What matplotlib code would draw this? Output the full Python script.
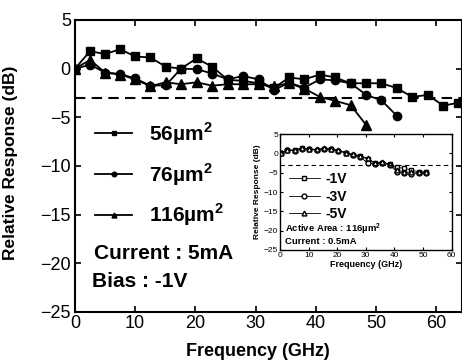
import matplotlib
matplotlib.use("Agg")
import matplotlib.pyplot as plt

plt.rcParams['font.family'] = ['Liberation Sans', 'DejaVu Sans']
plt.rcParams['mathtext.fontset'] = 'custom'
plt.rcParams['mathtext.rm'] = 'Liberation Sans'
plt.rcParams['mathtext.bf'] = 'Liberation Sans:bold'

# main plot data
freq = [0, 2.5, 5, 7.5, 10, 12.5, 15.1, 17.6, 20.2, 22.8, 25.4, 27.9, 30.5,
        33.0, 35.6, 38.1, 40.7, 43.2, 45.8, 48.4, 50.9, 53.5, 56.0, 58.6,
        61.2, 63.7]
resp_56 = [0, 1.8, 1.5, 2.0, 1.25, 1.15, 0.2, 0.0, 1.05, 0.2, -1.15, -1.25,
           -1.5, -2.0, -0.9, -1.1, -0.6, -0.9, -1.5, -1.5, -1.5, -2.0, -2.9,
           -2.7, -3.8, -3.5]
resp_76 = [0, 0.4, -0.4, -0.55, -1.0, -1.75, -1.7, 0.0, -0.05, -0.5, -1.1,
           -0.75, -1.1, -2.2, -1.45, -1.95, -1.1, -1.2, -1.5, -2.7, -3.25,
           -4.85]
resp_116 = [0, 0.9, -0.4, -0.6, -1.1, -1.8, -1.4, -1.6, -1.4, -1.75, -1.6,
            -1.6, -1.6, -1.8, -1.5, -2.05, -2.9, -3.3, -3.75, -5.8]
labels_main = ['56µm$^\\mathbf{2}$', '76µm$^\\mathbf{2}$', '116µm$^\\mathbf{2}$']

# inset data (116 um^2, 0.5 mA, different bias)
freq_in = [0.5, 2.6, 5.1, 7.7, 10.2, 12.8, 15.3, 17.9, 20.4, 23.0, 25.5, 28.1,
           30.6, 33.2, 35.7, 38.3, 40.8, 43.4, 45.9, 48.5, 51.0]
resp_1v = [0, 0.9, 0.8, 1.3, 1.1, 0.9, 1.2, 1.1, 0.7, 0.2, -0.4, -0.8, -1.5,
           -2.6, -2.4, -2.8, -3.6, -3.9, -4.3, -4.8, -4.8]
resp_3v = [0, 0.8, 0.7, 1.2, 1.0, 0.8, 1.1, 1.0, 0.6, 0.1, -0.5, -0.9, -2.6,
           -2.7, -2.5, -3.0, -4.8, -5.2, -5.4, -5.2, -5.1]
resp_5v = [0, 0.9, 0.8, 1.4, 1.1, 1.0, 1.3, 1.1, 0.8, 0.2, -0.3, -0.6, -1.3,
           -2.5, -2.2, -2.8, -4.3, -4.8, -4.9, -4.9, -4.8]
labels_in = ['-1V', '-3V', '-5V']

fig = plt.figure(figsize=(4.62, 3.62), dpi=100)
ax = fig.add_axes([75 / 462, 50 / 362, 387 / 462, 292 / 362])

ax.plot(freq, resp_56, 'k-', marker='s', ms=5.5, lw=1.3, label=labels_main[0])
ax.plot(freq[:len(resp_76)], resp_76, 'k-', marker='o', ms=6, lw=1.3,
        label=labels_main[1])
ax.plot(freq[:len(resp_116)], resp_116, 'k-', marker='^', ms=6.5, lw=1.3,
        label=labels_main[2])
ax.axhline(-3, color='k', ls=(0, (5, 3)), lw=1.5)

ax.set_xlim(0, 64.3)
ax.set_ylim(-25, 5)
ax.set_xticks(range(0, 61, 10))
ax.set_yticks(range(-25, 6, 5))
ax.tick_params(direction='in', top=True, right=True, labelsize=13, width=1.2,
               length=4, pad=2)
ax.tick_params(axis='y', pad=3)
for s in ax.spines.values():
    s.set_linewidth(1.5)
ax.set_xlabel('Frequency (GHz)', fontsize=13, fontweight='bold', labelpad=0)
ax.xaxis.set_label_coords(0.473, -0.105)
ax.set_ylabel('Relative Response (dB)', fontsize=12.5, fontweight='bold')
ax.yaxis.set_label_coords(-0.148, 0.51)

leg = ax.legend(loc='upper left', bbox_to_anchor=(0.03, 0.685), frameon=False,
                prop={'size': 15, 'weight': 'bold'}, handlelength=1.8,
                markerscale=0.55, labelspacing=0.68, handletextpad=0.8,
                borderaxespad=0)

ax.text(0.05, 0.2, 'Current : 5mA', transform=ax.transAxes, fontsize=15,
        fontweight='bold', va='center')
ax.text(0.045, 0.104, 'Bias : -1V', transform=ax.transAxes, fontsize=15,
        fontweight='bold', va='center')

# inset
ins = fig.add_axes([280 / 462, 112 / 362, 171.7 / 462, 116 / 362])
ins.plot(freq_in, resp_1v, 'k-', marker='s', mfc='white', ms=3.5, lw=0.6,
         label=labels_in[0])
ins.plot(freq_in, resp_3v, 'k-', marker='o', mfc='white', ms=3.5, lw=0.6,
         label=labels_in[1])
ins.plot(freq_in, resp_5v, 'k-', marker='^', mfc='white', ms=3.5, lw=0.6,
         label=labels_in[2])
ins.axhline(-3, color='k', ls=(0, (4, 3)), lw=0.8)
ins.set_xlim(0, 60)
ins.set_ylim(-25, 5)
ins.set_xticks(range(0, 61, 10))
ins.set_yticks(range(-25, 6, 5))
ins.tick_params(direction='in', top=True, right=True, labelsize=6, width=0.8,
                length=2.5, pad=1.5)
for s in ins.spines.values():
    s.set_linewidth(1.0)
ins.set_xlabel('Frequency (GHz)', fontsize=6.5, fontweight='bold', labelpad=1)
ins.set_ylabel('Relative Response (dB)', fontsize=6, fontweight='bold',
               labelpad=2)
ins.legend(loc='upper left', bbox_to_anchor=(0.02, 0.72), frameon=False,
           prop={'size': 10, 'weight': 'bold'}, handlelength=2.2,
           labelspacing=0.25, handletextpad=0.4, borderaxespad=0)
ins.text(0.03, 0.175, 'Active Area : 116µm$^\\mathbf{2}$',
         transform=ins.transAxes, fontsize=6.8, fontweight='bold',
         va='center')
ins.text(0.03, 0.075, 'Current : 0.5mA', transform=ins.transAxes,
         fontsize=6.8, fontweight='bold', va='center')

fig.savefig('out.png', dpi=100)
